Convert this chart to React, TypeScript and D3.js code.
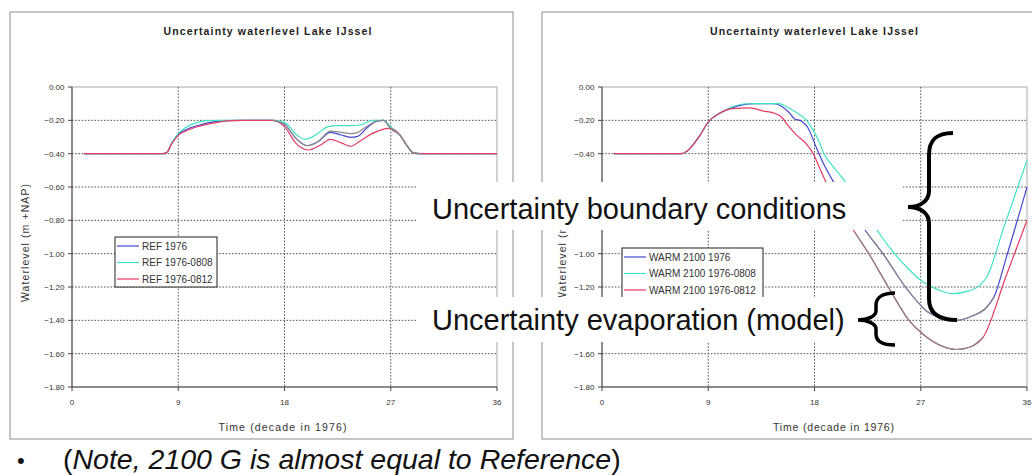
import React from 'react'
import * as d3 from 'd3'

type Pt = [number, number]

// axis ticks and labels
const xTicks = [0, 9, 18, 27, 36]
const yTicks = [0, -0.2, -0.4, -0.6, -0.8, -1.0, -1.2, -1.4, -1.6, -1.8]
const chartTitle = 'Uncertainty waterlevel Lake IJssel'
const xTitle = 'Time (decade in 1976)'
const yTitle = 'Waterlevel (m +NAP)'

const refNames = ['REF 1976', 'REF 1976-0808', 'REF 1976-0812']
const warmNames = ['WARM 2100 1976', 'WARM 2100 1976-0808', 'WARM 2100 1976-0812']

//===== left chart: reference =====
const ref1976: Pt[] = [
  [1, -0.4], [7.7, -0.4], [8, -0.395], [8.5, -0.33], [9, -0.285], [9.7, -0.255], [10.8, -0.228],
  [12.3, -0.206], [14.2, -0.2], [17, -0.2], [18, -0.225], [19, -0.31], [19.9, -0.352], [20.8, -0.33],
  [21.9, -0.272], [22.8, -0.288], [23.6, -0.302], [24.2, -0.296], [25, -0.245], [25.8, -0.205],
  [26.4, -0.2], [27, -0.25], [27.8, -0.29], [28.4, -0.355], [28.9, -0.395], [29.5, -0.4], [36, -0.4],
]
const ref0808: Pt[] = [
  [1, -0.4], [7.7, -0.4], [8, -0.395], [8.5, -0.33], [9, -0.28], [9.7, -0.24], [10.5, -0.215],
  [11.5, -0.202], [13, -0.2], [17, -0.2], [18, -0.212], [19, -0.285], [19.75, -0.314], [20.6, -0.29],
  [21.7, -0.238], [22.5, -0.232], [23.5, -0.232], [24.4, -0.228], [25.5, -0.2], [26.3, -0.2],
  [27, -0.238], [27.8, -0.29], [28.4, -0.355], [28.9, -0.395], [29.5, -0.4], [36, -0.4],
]
const ref0812: Pt[] = [
  [1, -0.4], [7.7, -0.4], [8, -0.395], [8.5, -0.335], [9, -0.29], [9.7, -0.262], [10.8, -0.235],
  [12.3, -0.212], [13.5, -0.202], [14.5, -0.2], [17, -0.2], [18, -0.238], [19, -0.34], [20, -0.378],
  [21, -0.35], [21.9, -0.314], [22.8, -0.335], [23.6, -0.356], [24.4, -0.324], [25.5, -0.277],
  [26.8, -0.248], [27.3, -0.258], [27.8, -0.29], [28.4, -0.355], [28.9, -0.395], [29.5, -0.4], [36, -0.4],
]
const refGrey: Pt[] = [
  [17, -0.2], [18, -0.225], [19, -0.31], [19.9, -0.352], [20.8, -0.33], [21.9, -0.265], [22.8, -0.272],
  [23.6, -0.28], [24.2, -0.272], [25, -0.235], [25.8, -0.205], [26.4, -0.2], [27, -0.25], [27.8, -0.29],
  [28.4, -0.355], [28.9, -0.395], [29.5, -0.4],
]

//===== right chart: warm 2100 =====
const warm1976: Pt[] = [
  [1, -0.4], [6.75, -0.4], [7.2, -0.385], [8.3, -0.29], [9, -0.21], [9.9, -0.16], [11, -0.125],
  [12, -0.106], [13, -0.1], [14.5, -0.1], [15.2, -0.115], [15.8, -0.15], [16.3, -0.19], [16.9, -0.205],
  [17.4, -0.24], [18.2, -0.37], [18.8, -0.465], [19.7, -0.58], [20.5, -0.67], [21.5, -0.775],
  [22.4, -0.87], [23.8, -1.0], [25.7, -1.2], [27, -1.31], [27.6, -1.35], [28.6, -1.38], [30, -1.4],
  [31.5, -1.37], [32.6, -1.32], [33.2, -1.26], [34.3, -1.01], [36, -0.6],
]
const warm0808: Pt[] = [
  [1, -0.4], [6.75, -0.4], [7.2, -0.385], [8.3, -0.29], [9, -0.21], [9.9, -0.16], [11, -0.12],
  [12, -0.102], [13, -0.1], [15, -0.1], [15.8, -0.125], [16.5, -0.155], [17.2, -0.19], [17.9, -0.26],
  [18.4, -0.33], [18.8, -0.4], [19.5, -0.47], [20.4, -0.55], [21.5, -0.67], [22.5, -0.77], [23.4, -0.87],
  [25.8, -1.08], [27, -1.16], [28.6, -1.22], [29.7, -1.24], [31, -1.225], [32, -1.19], [32.6, -1.14],
  [34, -0.85], [36, -0.44],
]
const warm0812: Pt[] = [
  [1, -0.4], [6.75, -0.4], [7.2, -0.385], [8.3, -0.29], [9, -0.21], [9.9, -0.16], [11, -0.13],
  [12.5, -0.125], [13.7, -0.145], [14.5, -0.155], [15.2, -0.18], [15.8, -0.235], [16.5, -0.29],
  [17.3, -0.34], [17.9, -0.4], [18.4, -0.48], [18.9, -0.56], [19.5, -0.65], [20.5, -0.77], [21.4, -0.87],
  [22.6, -1.0], [24.25, -1.2], [26, -1.4], [27.3, -1.49], [28.8, -1.555], [30, -1.575], [31.2, -1.56],
  [32.3, -1.5], [34.2, -1.14], [36, -0.8],
]
const warmGreyLow: Pt[] = [
  [21.4, -0.87], [22.6, -1.0], [24.25, -1.2], [26, -1.4], [27.3, -1.49], [28.8, -1.555], [30, -1.575],
  [31.2, -1.56], [32.3, -1.5],
]
const warmGreyMid: Pt[] = [
  [22.4, -0.87], [23.8, -1.0], [25.7, -1.2], [27, -1.31], [27.6, -1.35], [28.6, -1.38], [30, -1.4],
  [31.5, -1.37], [32.6, -1.32], [33.2, -1.26],
]

const BLUE = '#4646d2'
const CYAN = '#3fe2c6'
const RED = '#e53a62'
const GREY = '#8a8a8a'
const FONT = 'Liberation Sans, Arial, sans-serif'

function Chart({ frame, plot, titleX, xTitleX, xTitleLen, yTitleX, legend, names, series }: any) {
  const x = d3.scaleLinear().domain([0, 36]).range([plot.x, plot.x + plot.w])
  const y = d3.scaleLinear().domain([-1.8, 0]).range([plot.y + plot.h, plot.y])
  const line = d3.line<Pt>().x(d => x(d[0])).y(d => y(d[1])).curve(d3.curveMonotoneX)
  const fmt = d3.format('.2f')
  const bottom = plot.y + plot.h

  return (
    <g fontFamily={FONT}>
      <rect x={frame.x} y={frame.y} width={frame.w} height={frame.h} fill="#fff" stroke="#8c8c8c" />
      <text x={titleX} y={35} textAnchor="middle" fontSize={10.5} fontWeight="bold" fill="#222"
        textLength={208} lengthAdjust="spacing">{chartTitle}</text>

      <rect x={plot.x} y={plot.y} width={plot.w} height={plot.h} fill="#fff" stroke="#a8a8a8" />
      {yTicks.slice(1, -1).map(t => (
        <line key={'h' + t} x1={plot.x} x2={plot.x + plot.w} y1={y(t)} y2={y(t)}
          stroke="#555" strokeDasharray="1.6,1.6" />
      ))}
      {xTicks.slice(1, -1).map(t => (
        <line key={'v' + t} x1={x(t)} x2={x(t)} y1={plot.y} y2={bottom}
          stroke="#555" strokeDasharray="1.6,1.6" />
      ))}
      <line x1={plot.x} x2={plot.x} y1={plot.y} y2={bottom} stroke="#444" />
      <line x1={plot.x} x2={plot.x + plot.w} y1={bottom} y2={bottom} stroke="#444" />

      {yTicks.map(t => (
        <g key={'yt' + t}>
          <line x1={plot.x - 4} x2={plot.x} y1={y(t)} y2={y(t)} stroke="#444" />
          <text x={plot.x - 7.5} y={y(t) + 3} textAnchor="end" fontSize={8} fill="#333">{fmt(t)}</text>
        </g>
      ))}
      {xTicks.map(t => (
        <g key={'xt' + t}>
          <line x1={x(t)} x2={x(t)} y1={bottom} y2={bottom + 4} stroke="#444" />
          <text x={x(t)} y={bottom + 18} textAnchor="middle" fontSize={8} fill="#333">{t}</text>
        </g>
      ))}
      <text x={xTitleX} y={431} textAnchor="middle" fontSize={10.5} fill="#333"
        textLength={xTitleLen} lengthAdjust="spacing">{xTitle}</text>
      <text transform={`translate(${yTitleX},${plot.y + plot.h / 2 + 6}) rotate(-90)`} textAnchor="middle"
        fontSize={10.5} fill="#333" textLength={118} lengthAdjust="spacing">{yTitle}</text>

      {series.map((s: any, i: number) => (
        <path key={'s' + i} d={line(s.data) || ''} fill="none" stroke={s.color} strokeWidth={1.2} />
      ))}

      <rect x={legend.x} y={legend.y} width={legend.w} height={legend.h} fill="#fff" stroke="#222" />
      {names.map((n: string, i: number) => {
        const ly = legend.y + 9 + i * 16.5
        return (
          <g key={n}>
            <line x1={legend.x + 2} x2={legend.x + 24} y1={ly} y2={ly} stroke={series[i].color} strokeWidth={1.2} />
            <text x={legend.x + 27} y={ly + 3.5} fontSize={10} fill="#333">{n}</text>
          </g>
        )
      })}
    </g>
  )
}

export default function App() {
  const leftSeries = [
    { data: ref1976, color: BLUE },
    { data: ref0808, color: CYAN },
    { data: ref0812, color: RED },
    { data: refGrey, color: GREY },
  ]
  const rightSeries = [
    { data: warm1976, color: BLUE },
    { data: warm0808, color: CYAN },
    { data: warm0812, color: RED },
    { data: warmGreyLow, color: GREY },
    { data: warmGreyMid, color: GREY },
  ]

  return (
    <svg width={1032} height={475} style={{ position: 'absolute', left: 0, top: 0, background: '#fff' }}>
      <rect x={0} y={0} width={1032} height={475} fill="#fff" />
      <Chart
        frame={{ x: 10, y: 12, w: 503, h: 427 }}
        plot={{ x: 72, y: 87, w: 425, h: 300 }}
        titleX={267.5} xTitleX={282.5} xTitleLen={128} yTitleX={29}
        legend={{ x: 115, y: 237, w: 102, h: 50 }}
        names={refNames} series={leftSeries}
      />
      <Chart
        frame={{ x: 542, y: 12, w: 502, h: 427 }}
        plot={{ x: 602, y: 87, w: 425, h: 300 }}
        titleX={814} xTitleX={833.5} xTitleLen={121} yTitleX={566}
        legend={{ x: 622, y: 248, w: 141, h: 58 }}
        names={warmNames} series={rightSeries}
      />

      {/* annotations pasted on top of the charts */}
      <g fontFamily={FONT} fill="#111">
        <rect x={417} y={182} width={486} height={48} fill="#fff" />
        <rect x={417} y={297} width={441} height={45} fill="#fff" />
        <text x={432} y={219} fontSize={29}>Uncertainty boundary conditions</text>
        <text x={432} y={330} fontSize={29}>Uncertainty evaporation (model)</text>
      </g>
      <path d="M953,133 C936,133 929,140 929,155 L929,191 C929,201 920,207 908,207 C920,207 929,213 929,223 L929,299 C929,313 938,320 957,320"
        fill="none" stroke="#000" strokeWidth={4} />
      <path d="M895,293 C882,293 876,298 876,305 L876,311 C876,316 868,320 858,320 C868,320 876,324 876,329 L876,334 C876,341 882,345 895,345"
        fill="none" stroke="#000" strokeWidth={3.5} />

      <g fontFamily={FONT} fill="#111">
        <text x={17} y={468} fontSize={22}>•</text>
        <text x={63} y={469} fontSize={28.5}>
          <tspan>(</tspan>
          <tspan fontStyle="italic">Note, 2100 G is almost equal to Reference</tspan>
          <tspan>)</tspan>
        </text>
      </g>
    </svg>
  )
}
